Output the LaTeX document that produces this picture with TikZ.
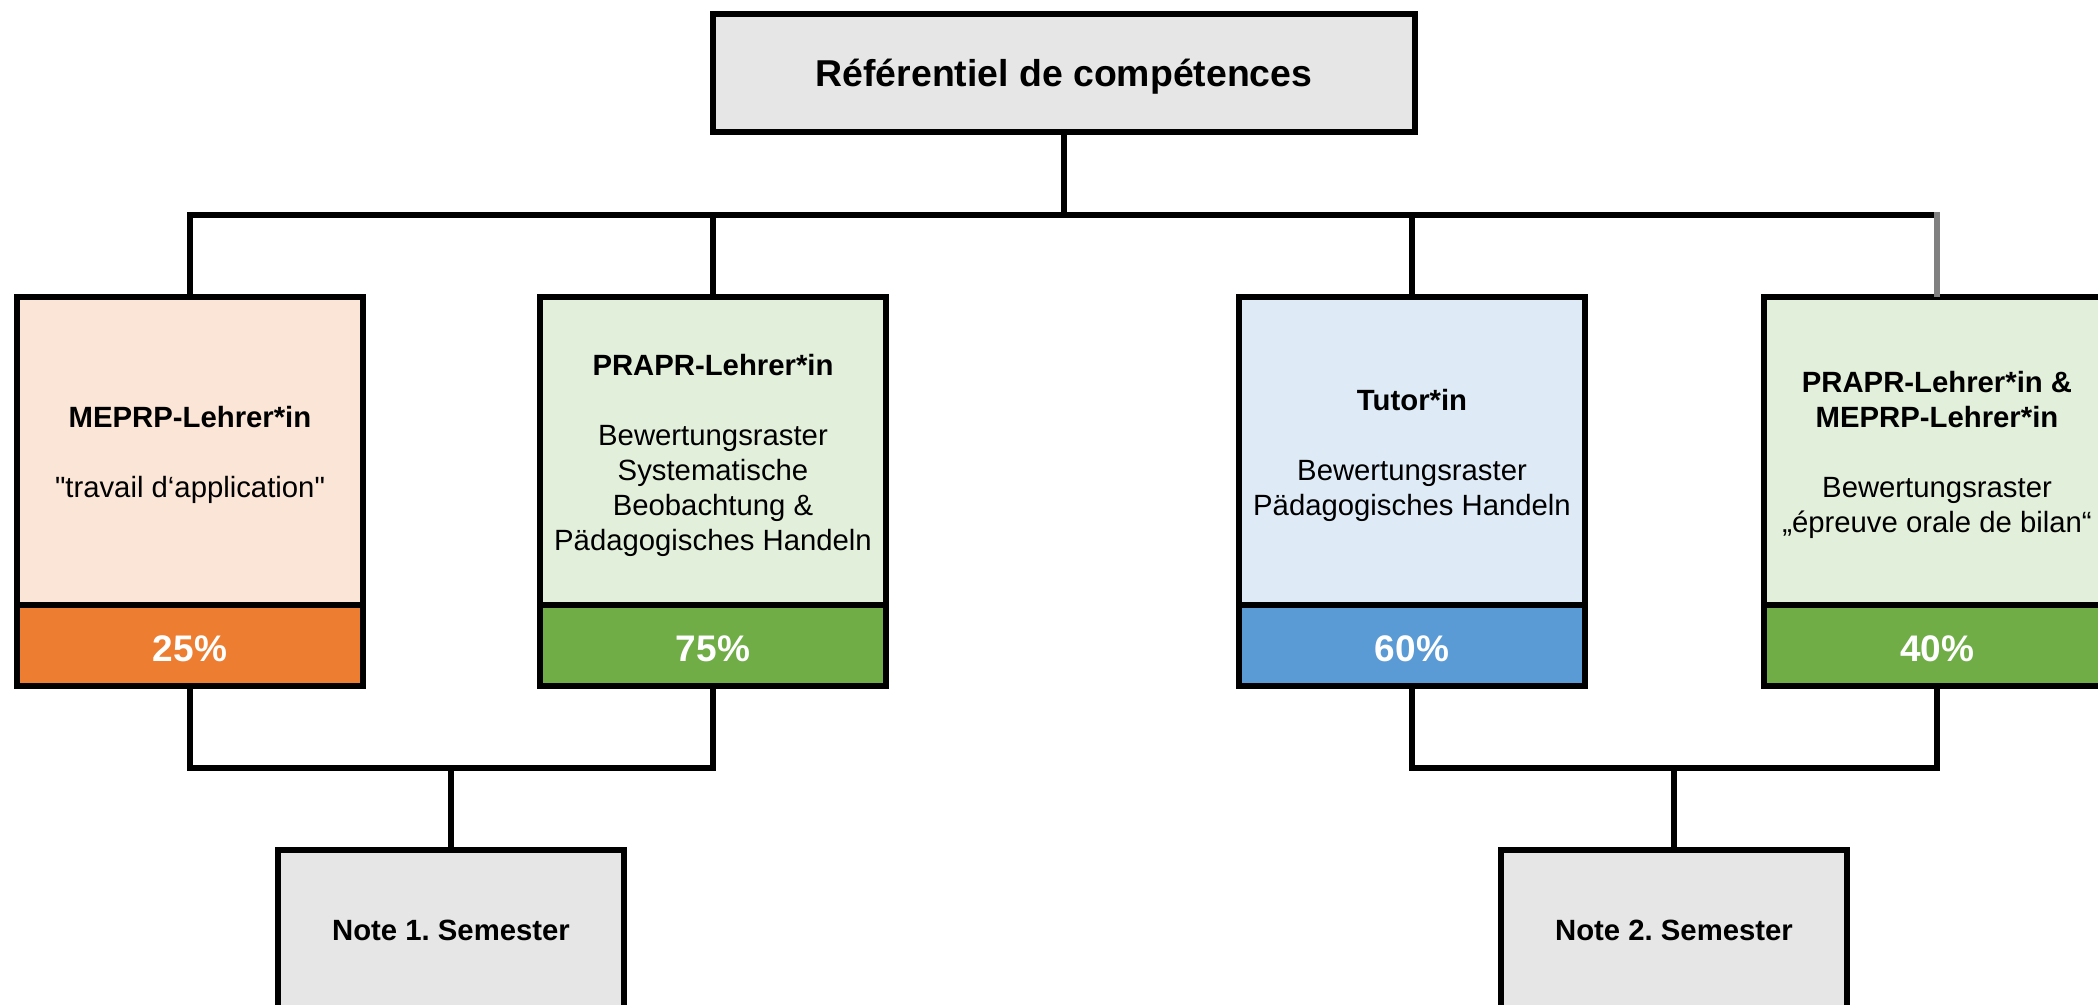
\documentclass[tikz,border=0pt]{standalone}
\usepackage{fontspec}
\setmainfont{Liberation Sans}
\newfontfamily\plainq{Liberation Sans}
\definecolor{peach}{HTML}{FBE5D6}
\definecolor{orangeband}{HTML}{ED7D31}
\definecolor{lightgreen}{HTML}{E2EFDA}
\definecolor{greenband}{HTML}{70AD47}
\definecolor{lightblue}{HTML}{DEEBF7}
\definecolor{blueband}{HTML}{5B9BD5}
\definecolor{greybox}{HTML}{E7E6E6}
\definecolor{greyline}{HTML}{808080}
\newcommand{\lowr}[1]{\raisebox{-1.6pt}[\height][\depth]{#1}}
\frenchspacing
\begin{document}
\begin{tikzpicture}[x=0.5pt,y=-0.5pt,
  box/.style={draw=black, line width=2.85pt, rectangle, inner sep=0pt, outer sep=0pt,
    minimum width=173pt, align=center, font=\fontsize{14.65}{17.5}\selectfont},
  upper/.style={box, minimum height=154pt},
  boxtext/.style={inner sep=0pt, align=center, font=\fontsize{14.65}{17.5}\selectfont},
  band/.style={box, minimum height=40.5pt, text=white, font=\bfseries\fontsize{18.5}{22}\selectfont},
  notebox/.style={box, fill=greybox, minimum height=80pt, font=\bfseries\fontsize{14.65}{17.5}\selectfont},
  conn/.style={draw=black, line width=2.85pt},
  greyconn/.style={draw=greyline, line width=2.85pt}]
\useasboundingbox (0,0) rectangle (2098,1005);
\clip (0,0) rectangle (2098,1005);
% top box
\node[box, fill=greybox, minimum width=351pt, minimum height=59pt,
  font=\bfseries\fontsize{18.7}{22}\selectfont] (top) at (1064,73) {\lowr{Référentiel de compétences}};
% upper boxes
\node[upper, fill=peach] (m1) at (190,451) {};
\node[boxtext] (t1) at (190,455) {\textbf{MEPRP-Lehrer*in}\\[17.5pt]{\plainq"}travail d‘application{\plainq"}};
\node[band, fill=orangeband, anchor=north] (p1) at (m1.south) {\lowr{25\%}};
\node[upper, fill=lightgreen] (m2) at (713,451) {};
\node[boxtext] (t2) at (713,455) {\textbf{PRAPR-Lehrer*in}\\[17.5pt]Bewertungsraster\\Systematische\\Beobachtung \&\\Pädagogisches Handeln};
\node[band, fill=greenband, anchor=north] (p2) at (m2.south) {\lowr{75\%}};
\node[upper, fill=lightblue] (m3) at (1412,451) {};
\node[boxtext] (t3) at (1412,455) {\textbf{Tutor*in}\\[17.5pt]Bewertungsraster\\Pädagogisches Handeln};
\node[band, fill=blueband, anchor=north] (p3) at (m3.south) {\lowr{60\%}};
\node[upper, fill=lightgreen] (m4) at (1937,451) {};
\node[boxtext] (t4) at (1937,455) {\textbf{PRAPR-Lehrer*in \&}\\\textbf{MEPRP-Lehrer*in}\\[17.5pt]Bewertungsraster\\„épreuve orale de bilan“};
\node[band, fill=greenband, anchor=north] (p4) at (m4.south) {\lowr{40\%}};
% note boxes
\node[notebox] (n1) at (451,930) {Note 1. Semester};
\node[notebox] (n2) at (1674,930) {Note 2. Semester};
% bus coordinates
\coordinate (busy) at (0,215);
\coordinate (lowy) at (0,768);
% top connectors
\draw[conn] (top.south) -- (top.south |- busy);
\draw[conn] (m1.north) |- (m4.north |- busy);
\draw[conn] (m2.north) -- (m2.north |- busy);
\draw[conn] (m3.north) -- (m3.north |- busy);
\draw[greyconn, shorten >=-1.4pt] (m4.north) -- (m4.north |- busy);
% bottom connectors
\draw[conn] (p1.south) -- (p1.south |- lowy) -- (p2.south |- lowy) -- (p2.south);
\draw[conn] (n1.north) -- (n1.north |- lowy);
\draw[conn] (p3.south) -- (p3.south |- lowy) -- (p4.south |- lowy) -- (p4.south);
\draw[conn] (n2.north) -- (n2.north |- lowy);
\end{tikzpicture}
\end{document}
